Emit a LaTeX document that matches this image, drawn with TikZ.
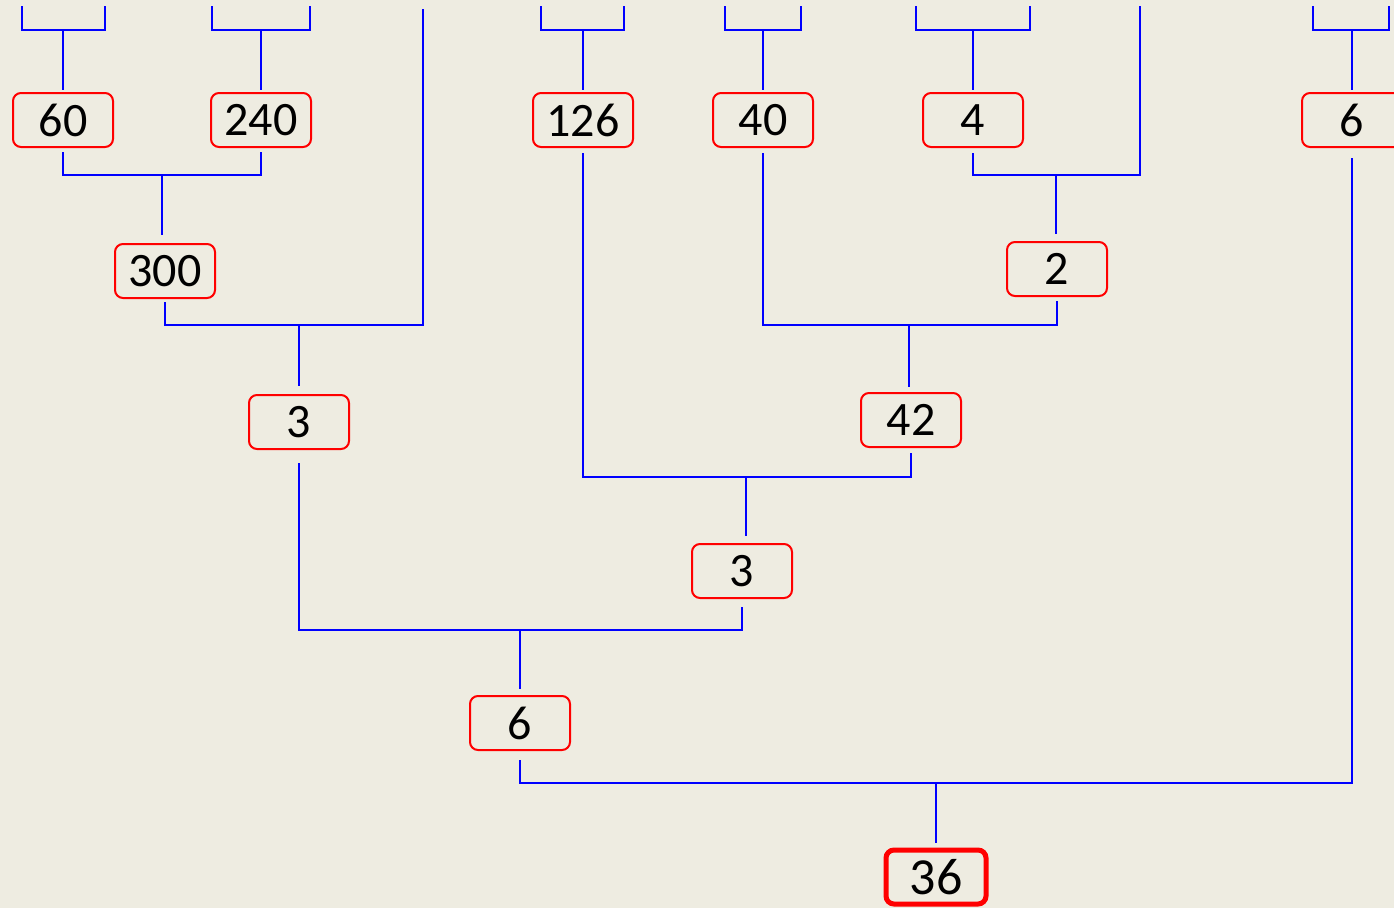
\documentclass[tikz,border=0pt]{standalone}
\usepackage{fontspec}
\setmainfont{Carlito}
\usepackage{tikz}
\definecolor{bgtan}{HTML}{EEECE1}
\tikzstyle{numbox} = [rectangle, rounded corners=8pt, minimum width=100pt, minimum height=54pt,
                      inner sep=0pt, draw=red, line width=2pt, text=black,
                      font=\fontsize{48pt}{48pt}\selectfont]
\tikzstyle{result} = [numbox, line width=5pt, font=\fontsize{52pt}{52pt}\selectfont]
\tikzstyle{link}   = [draw=blue, line width=2pt]

\begin{document}
\begin{tikzpicture}[x=1pt, y=-1pt]
    \path[fill=bgtan, use as bounding box] (0,0) rectangle (1394,908);

    % top row
    \node (n60) [numbox] at (63,120) {60};
    \node (n240) [numbox] at (261,120) {240};
    \node (n126) [numbox] at (583,120) {126};
    \node (n40) [numbox] at (763,120) {40};
    \node (n4) [numbox] at (973,120) {4};
    \node (n6r) [numbox] at (1352,120) {6};
    % lower levels
    \node (n300) [numbox] at (165,271) {300};
    \node (n2) [numbox] at (1057,269) {2};
    \node (n3a) [numbox] at (299,422) {3};
    \node (n42) [numbox] at (911,420) {42};
    \node (n3b) [numbox] at (742,571) {3};
    \node (n6) [numbox] at (520,723) {6};
    \node (n36) [result] at (936,877) {36};

    % open ends at the top edge
    \coordinate (a1) at (22,6);   \coordinate (a2) at (105,6);  \coordinate (ta) at (63,30);
    \coordinate (b1) at (212,6);  \coordinate (b2) at (310,6);  \coordinate (tb) at (261,30);
    \coordinate (c1) at (541,6);  \coordinate (c2) at (624,6);  \coordinate (tc) at (583,30);
    \coordinate (d1) at (725,6);  \coordinate (d2) at (801,6);  \coordinate (td) at (763,30);
    \coordinate (e1) at (916,6);  \coordinate (e2) at (1030,6); \coordinate (te) at (973,30);
    \coordinate (g1) at (1313,6); \coordinate (g2) at (1389,6); \coordinate (tg) at (1352,30);
    \coordinate (f1) at (423,9);
    \coordinate (f2) at (1140,6);

    % junctions
    \coordinate (j1) at (162,175);
    \coordinate (j2) at (299,325);
    \coordinate (j3) at (1056,175);
    \coordinate (j4) at (909,325);
    \coordinate (j5) at (746,477);
    \coordinate (j6) at (520,630);
    \coordinate (j7) at (936,783);

    % top brackets
    \draw[link] (a1) |- (ta) -| (a2);
    \draw[link] (b1) |- (tb) -| (b2);
    \draw[link] (c1) |- (tc) -| (c2);
    \draw[link] (d1) |- (td) -| (d2);
    \draw[link] (e1) |- (te) -| (e2);
    \draw[link] (g1) |- (tg) -| (g2);
    \draw[link, shorten >=2pt] (ta) -- (n60.north);
    \draw[link, shorten >=2pt] (tb) -- (n240.north);
    \draw[link, shorten >=2pt] (tc) -- (n126.north);
    \draw[link, shorten >=2pt] (td) -- (n40.north);
    \draw[link, shorten >=2pt] (te) -- (n4.north);
    \draw[link, shorten >=2pt] (tg) -- (n6r.north);

    % merges
    \draw[link, shorten <=4pt, shorten >=4pt] (n60.south) |- (j1) -| (n240.south);
    \draw[link, shorten >=8pt] (j1) -- (n300.north -| j1);
    \draw[link, shorten <=3pt] (n300.south) |- (j2) -| (f1);
    \draw[link, shorten >=8pt] (j2) -- (n3a.north -| j2);
    \draw[link, shorten <=5pt] (n4.south) |- (j3) -| (f2);
    \draw[link, shorten >=7pt] (j3) -- (n2.north -| j3);
    \draw[link, shorten <=5pt, shorten >=4pt] (n40.south) |- (j4) -| (n2.south);
    \draw[link, shorten >=5pt] (j4) -- (n42.north -| j4);
    \draw[link, shorten <=5pt, shorten >=5pt] (n126.south) |- (j5) -| (n42.south);
    \draw[link, shorten >=7pt] (j5) -- (n3b.north -| j5);
    \draw[link, shorten <=13pt, shorten >=8pt] (n3a.south) |- (j6) -| (n3b.south);
    \draw[link, shorten >=6pt] (j6) -- (n6.north -| j6);
    \draw[link, shorten <=9pt, shorten >=10pt] (n6.south) |- (j7) -| (n6r.south);
    \draw[link, shorten >=5pt] (j7) -- (n36.north -| j7);
\end{tikzpicture}
\end{document}
